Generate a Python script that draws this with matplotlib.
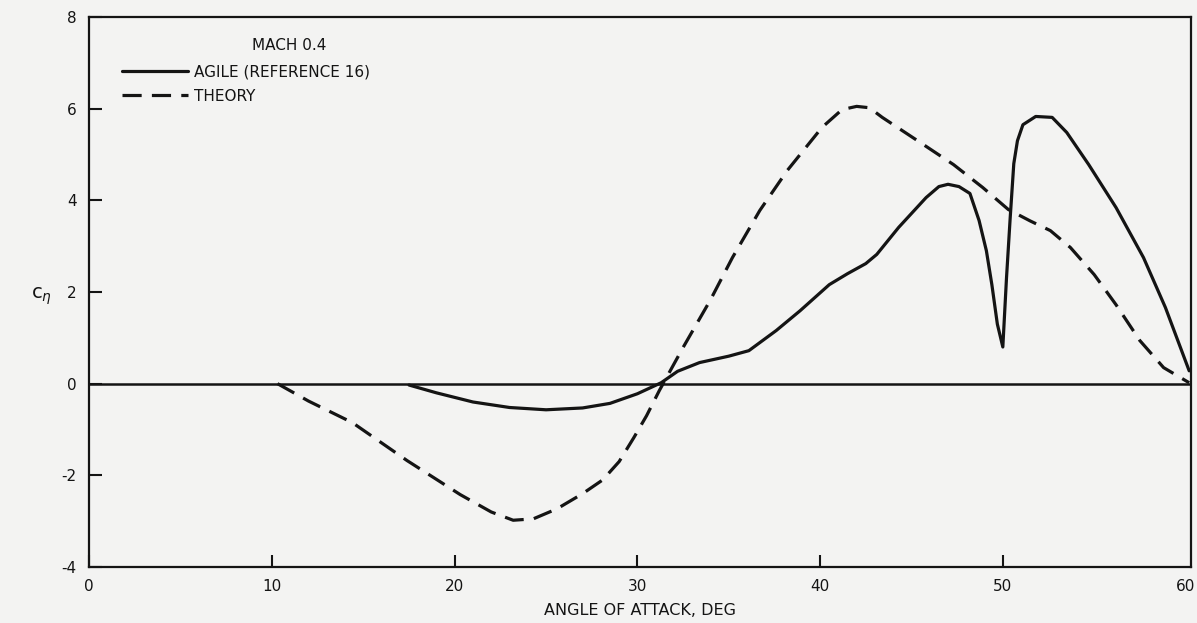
import matplotlib
matplotlib.use("Agg")
import matplotlib.pyplot as plt

# Yawing-moment coefficient vs angle of attack, Mach 0.4
agile_alpha = [17.5, 19, 21, 23, 25, 27, 28.5, 30, 31.3, 32.2, 33.4, 35, 36.1,
               37.6, 38.9, 40.5, 41.5, 42.5, 43.1, 44.3, 45.8, 46.5, 47.0, 47.6,
               48.2, 48.7, 49.1, 49.4, 49.7, 50.0, 50.2, 50.4, 50.6, 50.8, 51.1,
               51.8, 52.7, 53.5, 54.7, 56.2, 57.7, 58.9, 60.2]
agile_cn = [-0.03, -0.2, -0.4, -0.52, -0.57, -0.53, -0.43, -0.22, 0.02, 0.27,
            0.46, 0.6, 0.72, 1.16, 1.59, 2.16, 2.4, 2.62, 2.82, 3.41, 4.06, 4.3,
            4.35, 4.3, 4.15, 3.56, 2.9, 2.16, 1.3, 0.8, 2.3, 3.6, 4.8, 5.3, 5.65,
            5.83, 5.81, 5.48, 4.78, 3.84, 2.75, 1.66, 0.28]

theory_alpha = [10.3, 12, 14.4, 17.4, 20.3, 22, 23.2, 24.3, 25.6, 27, 28.1,
                29.0, 29.8, 30.5, 31.2, 32.5, 34.0, 35.2, 36.7, 38.2, 40.1,
                41.2, 42.0, 42.7, 43.4, 45.3, 47.3, 48.9, 50.3, 51.5, 52.6,
                53.7, 55.0, 56.2, 57.5, 58.8, 60.2]
theory_cn = [0, -0.38, -0.85, -1.68, -2.42, -2.8, -2.98, -2.95, -2.73, -2.4,
             -2.10, -1.7, -1.18, -0.7, -0.15, 0.79, 1.83, 2.75, 3.78, 4.65,
             5.59, 5.98, 6.05, 6.02, 5.81, 5.31, 4.78, 4.28, 3.8, 3.55, 3.34,
             2.97, 2.38, 1.72, 0.94, 0.35, 0.02]

x_ticks = [0, 10, 20, 30, 40, 50, 60]
y_ticks = [-4, -2, 0, 2, 4, 6, 8]

plt.rcParams['font.family'] = ['DejaVu Sans']
plt.rcParams['axes.unicode_minus'] = False
ink = '#141414'
bg = '#f3f3f2'

fig = plt.figure(figsize=(11.97, 6.23), dpi=100, facecolor=bg)
ax = fig.add_axes([0.0746, 0.0899, 0.9204, 0.8828], facecolor=bg)

ax.axhline(0, color=ink, lw=1.8, zorder=1)
ax.plot(agile_alpha, agile_cn, color=ink, lw=2.3, solid_capstyle='round',
        label='AGILE (REFERENCE 16)')
ax.plot(theory_alpha, theory_cn, color=ink, lw=2.3, dashes=(6, 3.2),
        label='THEORY')

ax.set_xlim(0, 60.3)
ax.set_ylim(-4, 8)
ax.set_xticks(x_ticks)
ax.set_yticks(y_ticks)
ax.tick_params(direction='in', length=9, width=1.5, colors=ink,
               labelsize=11, pad=9)
ax.xaxis.get_major_ticks()[-1].tick1line.set_visible(False)
for s in ax.spines.values():
    s.set_color(ink)
    s.set_linewidth(1.6)

ax.set_xlabel('ANGLE OF ATTACK, DEG', fontsize=11.5, color=ink, labelpad=6)
fig.text(0.026, 0.525, r'$\mathregular{c}_{\eta}$', fontsize=14, color=ink,
         ha='left', va='center')

ax.text(0.181, 0.948, 'MACH 0.4', transform=ax.transAxes, fontsize=11,
        color=ink, ha='center', va='center')
leg = ax.legend(loc='upper left', bbox_to_anchor=(0.024, 0.925), frameon=False,
                fontsize=11, handlelength=4.3, handletextpad=0.45,
                labelspacing=0.6, borderaxespad=0)
for t in leg.get_texts():
    t.set_color(ink)

fig.savefig('out.png', dpi=100, facecolor=bg)
